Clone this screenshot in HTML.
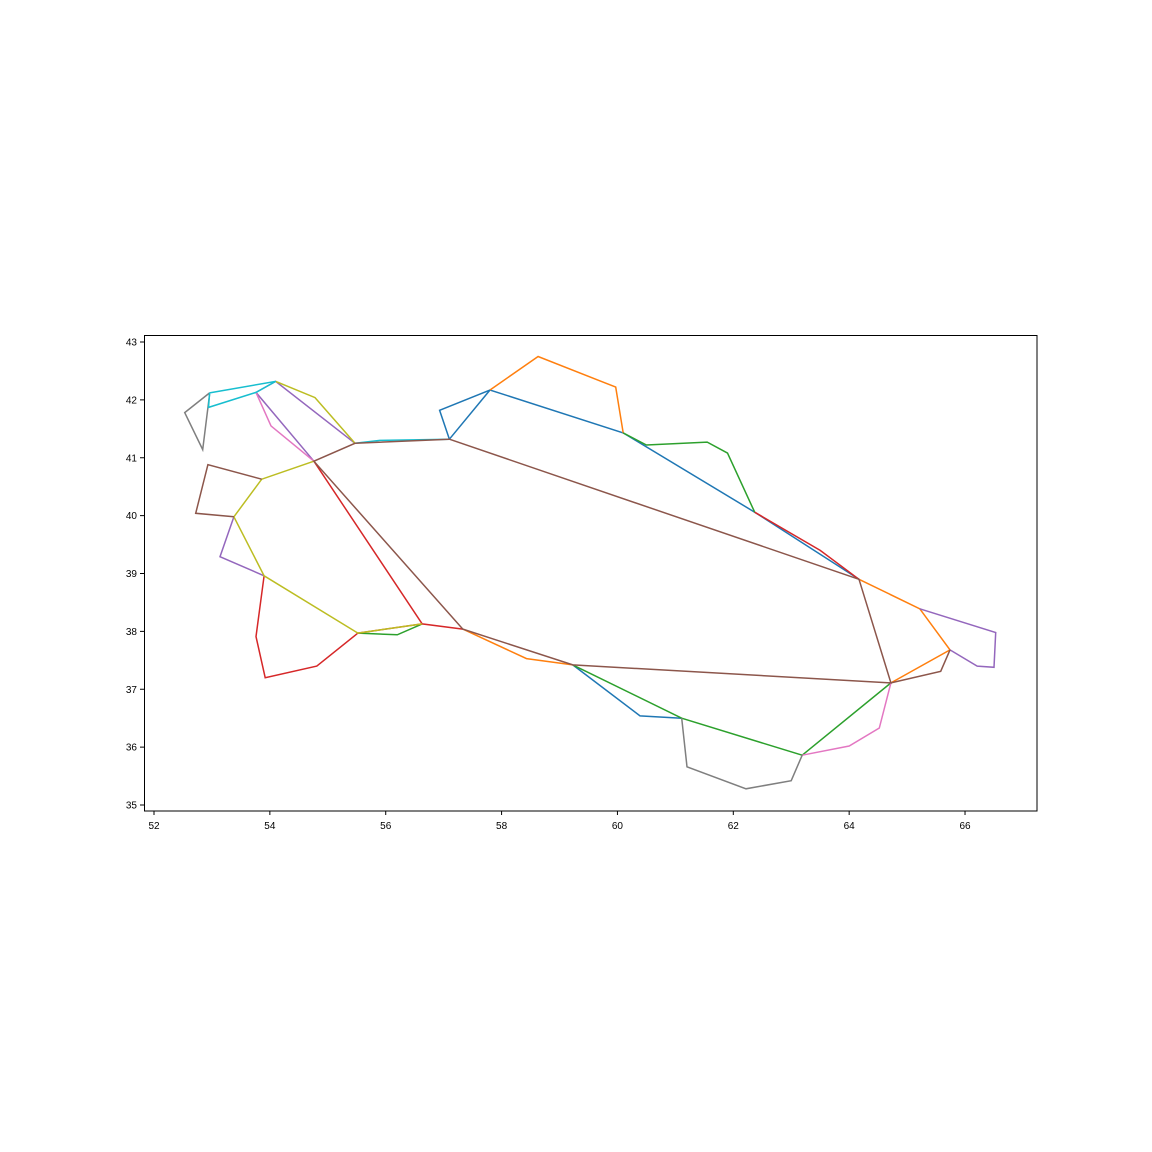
<!DOCTYPE html>
<html><head><meta charset="utf-8"><style>
body{margin:0;background:#fff;}
svg{display:block;font-family:"Liberation Sans",sans-serif;}
</style></head><body>
<svg id="chart" width="1152" height="1152">
<rect x="144.5" y="335.5" width="892.5" height="475.5" fill="none" stroke="#000" stroke-width="1"/>
<g id="marks"></g>
<g id="xt"></g>
<g id="yt"></g>
</svg>
<script>
const xTicks=[52,54,56,58,60,62,64,66];
const yTicks=[35,36,37,38,39,40,41,42,43];
const seriesColors=["#1f77b4","#ff7f0e","#2ca02c","#d62728","#9467bd","#8c564b","#e377c2","#7f7f7f","#bcbd22","#17becf"];
// polylines: [colorIndex, [lon,lat,...]]
const blueLines=[[0,[57.10,41.32,56.93,41.82,57.80,42.17,60.10,41.43,62.37,40.06,64.17,38.90]],[0,[57.10,41.32,57.80,42.17]],[0,[59.23,37.42,60.39,36.54,61.11,36.50]]];
const orangeLines=[[1,[57.80,42.17,58.63,42.75,59.97,42.22,60.10,41.43]],[1,[64.17,38.90,65.22,38.39,65.74,37.68,64.72,37.11]],[1,[57.33,38.04,58.43,37.53,59.23,37.42]]];
const greenLines=[[2,[60.10,41.43,60.50,41.22,61.55,41.27,61.90,41.08,62.37,40.06]],[2,[55.52,37.97,56.20,37.94,56.63,38.13]],[2,[59.23,37.42,61.11,36.50,63.19,35.86,64.72,37.11]]];
const redLines=[[3,[62.37,40.06,63.50,39.40,64.17,38.90]],[3,[54.76,40.94,56.63,38.13,57.33,38.04]],[3,[56.63,38.13,55.52,37.97,54.81,37.40,53.92,37.20,53.76,37.91,53.90,38.96]]];
const purpleLines=[[4,[54.76,40.94,53.76,42.13,54.10,42.32,55.47,41.25]],[4,[53.38,39.98,53.14,39.29,53.90,38.96]],[4,[65.22,38.39,66.53,37.98,66.50,37.38,66.21,37.40,65.74,37.68]]];
const pinkLines=[[6,[53.76,42.13,54.02,41.55,54.76,40.94]],[6,[63.19,35.86,64.00,36.02,64.52,36.33,64.72,37.11]]];
const grayLines=[[7,[52.96,42.12,52.53,41.78,52.84,41.14,52.96,42.10]],[7,[61.11,36.50,61.20,35.66,62.22,35.28,63.00,35.42,63.19,35.86]]];
const oliveLines=[[8,[54.10,42.32,54.78,42.04,55.47,41.25]],[8,[54.76,40.94,53.86,40.63,53.38,39.98,53.90,38.96,55.52,37.97,56.63,38.13]]];
const cyanLines=[[9,[52.96,42.12,54.10,42.32,53.76,42.13,52.94,41.87,52.96,42.12]],[9,[55.47,41.25,55.90,41.30,57.10,41.32]]];
const brownLines=[[5,[57.10,41.32,64.17,38.90,64.72,37.11,59.23,37.42,57.33,38.04,54.76,40.94,55.47,41.25,57.10,41.32]],[5,[53.86,40.63,52.93,40.88,52.72,40.04,53.38,39.98]],[5,[64.72,37.11,65.58,37.31,65.74,37.68]]];
const X=v=>154+(v-52)*57.93;
const Y=v=>342+(43-v)*57.875;
const NS="http://www.w3.org/2000/svg";
const marks=document.getElementById('marks');
[blueLines,orangeLines,greenLines,redLines,purpleLines,pinkLines,grayLines,oliveLines,cyanLines,brownLines].forEach(group=>{
 group.forEach(([c,pts])=>{
  const p=document.createElementNS(NS,'polyline');
  let s=[];for(let i=0;i<pts.length;i+=2)s.push(X(pts[i]).toFixed(1)+','+Y(pts[i+1]).toFixed(1));
  p.setAttribute('points',s.join(' '));
  p.setAttribute('fill','none');p.setAttribute('stroke',seriesColors[c]);p.setAttribute('stroke-width','1.5');
  
  
  marks.appendChild(p);
 });
});
const xt=document.getElementById('xt'),yt=document.getElementById('yt');
xTicks.forEach(v=>{
 const l=document.createElementNS(NS,'line');l.setAttribute('x1',X(v));l.setAttribute('x2',X(v));l.setAttribute('y1',811);l.setAttribute('y2',815);l.setAttribute('stroke','#000');
 
 
 xt.appendChild(l);
 const t=document.createElementNS(NS,'text');t.setAttribute('x',X(v));t.setAttribute('y',829);t.setAttribute('text-anchor','middle');t.setAttribute('font-size','10');t.textContent=v;
 
 
 xt.appendChild(t);
});
yTicks.forEach(v=>{
 const l=document.createElementNS(NS,'line');l.setAttribute('x1',140);l.setAttribute('x2',144);l.setAttribute('y1',Y(v));l.setAttribute('y2',Y(v));l.setAttribute('stroke','#000');
 
 
 yt.appendChild(l);
 const t=document.createElementNS(NS,'text');t.setAttribute('x',137);t.setAttribute('y',Y(v)+3.5);t.setAttribute('text-anchor','end');t.setAttribute('font-size','10');t.textContent=v;
 
 
 yt.appendChild(t);
});
</script>
</body></html>
